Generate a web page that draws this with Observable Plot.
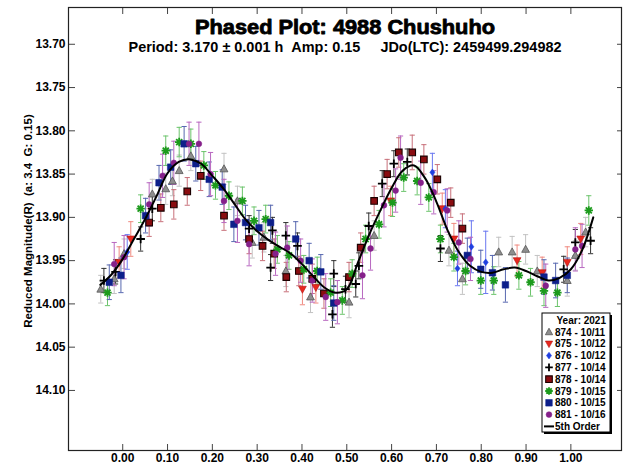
<!DOCTYPE html>
<html><head><meta charset="utf-8">
<script src="https://cdn.jsdelivr.net/npm/d3@7"></script>
<script src="https://cdn.jsdelivr.net/npm/@observablehq/plot@0.6"></script>
<style>
html,body{margin:0;padding:0;background:#fff;}
#chart{width:624px;height:468px;}
</style></head><body><div id="chart"></div>
<script>
const FONT = '"Liberation Sans", Arial, Helvetica, sans-serif';
const titleText = "Phased Plot: 4988 Chushuho";
const subtitleText = "Period: 3.170 \u00b1 0.001 h\u00a0\u00a0Amp: 0.15\u00a0\u00a0\u00a0\u00a0\u00a0JDo(LTC): 2459499.294982";
const yLabelText = "Reduced Magnitude(R)\u00a0\u00a0(a: 3.4\u00a0\u00a0G: 0.15)";
const legendTitle = "Year: 2021";
const fitLabel = "5th Order";
const xTicks = [0.0, 0.1, 0.2, 0.3, 0.4, 0.5, 0.6, 0.7, 0.8, 0.9, 1.0];
const yTicks = [13.70, 13.75, 13.80, 13.85, 13.90, 13.95, 14.00, 14.05, 14.10];
const seriesNames = ["874 - 10/11", "875 - 10/12", "876 - 10/12", "877 - 10/14", "878 - 10/14", "879 - 10/15", "880 - 10/15", "881 - 10/16"];

// [phase, reduced magnitude, error]
const s874 = [[-0.049,13.983,.016],[-0.019,13.971,.017],[0.003,13.942,.017],[0.066,13.873,.017],[0.096,13.867,.018],[0.111,13.858,.017],[0.126,13.846,.018],[0.152,13.829,.017],[0.226,13.844,.018],[0.256,13.881,.017],[0.289,13.929,.018],[0.315,13.923,.017],[0.364,13.962,.018],[0.419,13.992,.018],[0.505,13.998,.018],[0.561,13.921,.017],[0.728,13.938,.018],[0.758,13.971,.018],[0.839,13.940,.017],[0.869,13.940,.018],[0.899,13.937,.017],[0.925,13.962,.018],[0.992,13.973,.018],[1.010,13.944,.017],[1.033,13.917,.017]];
const s875 = [[-0.008,13.952,.018],[0.018,13.925,.020],[0.401,13.983,.018],[0.431,13.981,.018],[0.598,13.881,.017],[0.713,13.890,.018],[0.739,13.925,.018],[0.880,13.950,.018],[0.936,13.964,.018],[0.992,13.952,.018],[1.022,13.925,.018]];
const s876 = [[0.010,13.940,.020],[0.691,13.848,.022],[0.720,13.890,.022],[0.747,13.959,.020],[0.778,13.934,.030],[0.810,13.952,.036]];
const s877 = [[-0.042,13.973,.014],[-0.016,13.963,.014],[0.040,13.925,.014],[0.066,13.890,.014],[0.282,13.913,.015],[0.330,13.958,.015],[0.334,13.915,.015],[0.364,13.921,.015],[0.390,13.933,.015],[0.468,14.012,.015],[0.471,13.965,.015],[0.497,13.983,.015],[0.520,13.977,.015],[0.527,13.956,.015],[0.549,13.910,.015],[0.579,13.861,.015],[0.605,13.838,.015],[0.635,13.836,.015],[0.709,13.936,.015],[0.984,13.960,.015],[1.010,13.929,.015],[1.044,13.927,.015]];
const s878 = [[0.059,13.906,.016],[0.085,13.889,.016],[0.114,13.885,.017],[0.144,13.870,.016],[0.174,13.852,.017],[0.226,13.898,.017],[0.282,13.925,.017],[0.312,13.933,.017],[0.338,13.942,.017],[0.365,13.969,.017],[0.393,13.962,.017],[0.423,13.971,.017],[0.449,13.988,.017],[0.505,13.969,.017],[0.531,13.935,.017],[0.561,13.881,.017],[0.590,13.850,.017],[0.616,13.825,.017],[0.646,13.825,.020],[0.672,13.833,.017],[0.702,13.856,.017],[0.732,13.883,.017],[0.758,13.913,.017]];
const s879 = [[-0.034,13.987,.015],[0.040,13.890,.016],[0.096,13.823,.017],[0.126,13.813,.017],[0.152,13.815,.017],[0.181,13.840,.016],[0.207,13.863,.016],[0.237,13.875,.016],[0.267,13.881,.016],[0.293,13.904,.016],[0.319,13.902,.016],[0.345,13.937,.016],[0.371,13.944,.016],[0.404,13.960,.016],[0.434,13.962,.016],[0.464,13.987,.016],[0.490,13.996,.016],[0.512,13.965,.016],[0.542,13.925,.016],[0.572,13.908,.016],[0.602,13.883,.016],[0.627,13.854,.016],[0.657,13.858,.016],[0.683,13.877,.016],[0.709,13.925,.016],[0.739,13.946,.016],[0.765,13.962,.016],[0.799,13.973,.016],[0.828,13.973,.016],[0.884,13.967,.016],[0.910,13.975,.016],[0.940,13.985,.017],[0.970,13.987,.016],[1.040,13.892,.017]];
const s880 = [[-0.030,13.975,.020],[-0.004,13.967,.020],[0.051,13.898,.020],[0.081,13.860,.020],[0.107,13.842,.020],[0.137,13.815,.020],[0.163,13.838,.020],[0.193,13.856,.020],[0.222,13.865,.020],[0.248,13.908,.020],[0.274,13.906,.020],[0.304,13.912,.020],[0.330,13.906,.020],[0.386,13.925,.020],[0.416,13.950,.020],[0.442,13.963,.020],[0.471,13.999,.020],[0.769,13.944,.020],[0.799,13.960,.022],[0.825,13.964,.020],[0.854,13.978,.020],[0.940,13.969,.020],[0.966,13.973,.020],[0.992,13.967,.020]];
const s881 = [[-0.019,13.954,.025],[0.003,13.946,.025],[0.059,13.885,.025],[0.089,13.852,.025],[0.114,13.837,.025],[0.148,13.815,.025],[0.170,13.815,.025],[0.196,13.850,.025],[0.226,13.881,.025],[0.256,13.904,.025],[0.282,13.931,.025],[0.341,13.942,.025],[0.367,13.935,.025],[0.397,13.950,.025],[0.423,13.973,.025],[0.453,13.992,.027],[0.479,13.998,.025],[0.535,13.967,.027],[0.553,13.936,.025],[0.583,13.886,.025],[0.609,13.869,.025],[0.620,13.831,.025],[0.665,13.860,.025],[0.694,13.871,.025],[0.724,13.892,.025],[0.750,13.929,.025],[0.776,13.948,.025],[0.944,13.979,.025],[1.010,13.937,.025],[1.025,13.933,.025]];

// 5th order Fourier fit
const fitPhase = [-0.05,-0.025,0.0,0.025,0.05,0.075,0.10,0.125,0.15,0.175,0.20,0.225,0.25,0.275,0.30,0.325,0.35,0.375,0.40,0.425,0.45,0.475,0.50,0.525,0.55,0.575,0.60,0.625,0.65,0.675,0.70,0.725,0.75,0.775,0.80,0.825,0.85,0.875,0.90,0.925,0.95,0.975,1.00,1.025,1.05];
const fitMag = [13.978,13.966,13.948,13.925,13.902,13.876,13.849,13.836,13.833,13.838,13.852,13.867,13.885,13.903,13.916,13.926,13.934,13.942,13.954,13.968,13.981,13.987,13.983,13.952,13.920,13.892,13.866,13.846,13.840,13.855,13.882,13.915,13.940,13.956,13.963,13.964,13.960,13.958,13.962,13.968,13.973,13.970,13.960,13.938,13.900];

// symbols
const rOf = size => Math.sqrt(size / Math.PI);
const sym = {
  triUp: {draw(c, s){const r=rOf(s); c.moveTo(0,-r); c.lineTo(r*0.95,r*0.72); c.lineTo(-r*0.95,r*0.72); c.closePath();}},
  triDown: {draw(c, s){const r=rOf(s); c.moveTo(0,r); c.lineTo(r*0.95,-r*0.72); c.lineTo(-r*0.95,-r*0.72); c.closePath();}},
  diamond: {draw(c, s){const r=rOf(s); c.moveTo(0,-r); c.lineTo(r*0.75,0); c.lineTo(0,r); c.lineTo(-r*0.75,0); c.closePath();}},
  square: {draw(c, s){const r=rOf(s); c.moveTo(-r,-r); c.lineTo(r,-r); c.lineTo(r,r); c.lineTo(-r,r); c.closePath();}},
  plus: {draw(c, s){const r=rOf(s); c.moveTo(-r,0); c.lineTo(r,0); c.moveTo(0,-r); c.lineTo(0,r);}},
  aster: {draw(c, s){const r=rOf(s), q=r*0.72; c.moveTo(-r,0); c.lineTo(r,0); c.moveTo(0,-r); c.lineTo(0,r); c.moveTo(-q,-q); c.lineTo(q,q); c.moveTo(-q,q); c.lineTo(q,-q);}},
  circle: {draw(c, s){const r=rOf(s); c.moveTo(r,0); c.arc(0,0,r,0,2*Math.PI);}},
  cap: {draw(c, s){const r=rOf(s); c.moveTo(-r,0); c.lineTo(r,0);}}
};

const styles = [
  {data: s874, symbol: sym.triUp,  r: 4.1, fill: "#8e8e8e", stroke: "#555555", sw: 0.8, eb: "#c2c2c2"},
  {data: s875, symbol: sym.triDown,r: 4.1, fill: "#e8281e", stroke: "#b01010", sw: 0.6, eb: "#f08a80"},
  {data: s876, symbol: sym.diamond,r: 3.4, fill: "#1f3fe0", stroke: "#1f3fe0", sw: 0.5, eb: "#6a78f0"},
  {data: s877, symbol: sym.plus,   r: 4.3, fill: "none",    stroke: "#000000", sw: 1.8, eb: "#333333"},
  {data: s878, symbol: sym.square, r: 3.3, fill: "#8a0c10", stroke: "#1a0000", sw: 1.1, eb: "#c8707a"},
  {data: s879, symbol: sym.aster,  r: 4.2, fill: "none",    stroke: "#1c9a1c", sw: 1.8, eb: "#6cc46c"},
  {data: s880, symbol: sym.square, r: 3.3, fill: "#0d1f8a", stroke: "#0d1f8a", sw: 0.5, eb: "#5868b0"},
  {data: s881, symbol: sym.circle, r: 2.9, fill: "#85208a", stroke: "#85208a", sw: 0.5, eb: "#b868c0"}
];

const W = 624, H = 468, mL = 68, mR = 3, mT = 7, mB = 18;
const plotW = W - mL - mR, plotH = H - mT - mB;
const xDomain = [-0.121, 1.113];
const yDomain = [13.6575, 14.1694];

const marks = [];
for (const st of styles) {
  marks.push(Plot.ruleX(st.data, {x: d => d[0], y1: d => d[1] - d[2], y2: d => d[1] + d[2], stroke: st.eb, strokeWidth: 1}));
  marks.push(Plot.dot(st.data, {x: d => d[0], y: d => d[1] - d[2], symbol: sym.cap, r: 2.6, stroke: st.eb, strokeWidth: 1, fill: "none"}));
  marks.push(Plot.dot(st.data, {x: d => d[0], y: d => d[1] + d[2], symbol: sym.cap, r: 2.6, stroke: st.eb, strokeWidth: 1, fill: "none"}));
}
for (const st of styles) {
  marks.push(Plot.dot(st.data, {x: d => d[0], y: d => d[1], symbol: st.symbol, r: st.r, fill: st.fill, stroke: st.stroke, strokeWidth: st.sw}));
}
const fit = fitPhase.map((p, i) => ({p, m: fitMag[i]}));
marks.push(Plot.line(fit, {x: "p", y: "m", curve: "catmull-rom", stroke: "#000", strokeWidth: 2}));

const plot = Plot.plot({
  width: W, height: H,
  marginLeft: mL, marginRight: mR, marginTop: mT, marginBottom: mB,
  style: {fontFamily: FONT, background: "#fff", color: "#000"},
  x: {domain: xDomain},
  y: {domain: yDomain, reverse: true},
  marks: [
    Plot.axisX(xTicks, {tickSize: 0, tickPadding: 3, tickFormat: d3.format(".2f"), fontSize: 12, fontWeight: "bold", label: null}),
    Plot.axisY(yTicks, {tickSize: 0, tickPadding: 3, tickFormat: d3.format(".2f"), fontSize: 12, fontWeight: "bold", label: null}),
    Plot.tickX(xTicks, {x: d => d, insetTop: plotH - 6, stroke: "#444"}),
    Plot.tickX(xTicks, {x: d => d, insetBottom: plotH - 7, stroke: "#444"}),
    Plot.tickY(yTicks, {y: d => d, insetRight: plotW - 7, stroke: "#444"}),
    Plot.tickY(yTicks, {y: d => d, insetLeft: plotW - 4, stroke: "#444"}),
    ...marks,
    Plot.text([titleText], {frameAnchor: "top", lineAnchor: "middle", dy: 20, fontSize: 20, fontWeight: "bold", fill: "#000", stroke: "#000", strokeWidth: 0.8, className: "ttl"}),
    Plot.text([subtitleText], {frameAnchor: "top", lineAnchor: "middle", dy: 40, fontSize: 14, fontWeight: "bold", fill: "#000", className: "sub"}),
    Plot.frame({stroke: "#222", strokeWidth: 1.2})
  ]
});
document.getElementById("chart").appendChild(plot);

const svg = d3.select(plot);
svg.selectAll("g.ttl text").attr("textLength", 300).attr("lengthAdjust", "spacingAndGlyphs");
svg.selectAll("g.sub text").attr("textLength", 433).attr("lengthAdjust", "spacingAndGlyphs");

// y-axis label
svg.append("text")
  .attr("transform", "translate(32,221) rotate(-90)")
  .attr("text-anchor", "middle")
  .attr("font-family", FONT).attr("font-weight", "bold").attr("font-size", 11.5)
  .attr("fill", "#000")
  .text(yLabelText);

// legend
const lg = svg.append("g").attr("font-family", FONT).attr("font-weight", "bold").attr("font-size", 10).attr("text-anchor", "start").attr("fill", "#000");
const LX = 542, LY = 313, LW = 68, LH = 119;
lg.append("rect").attr("x", LX + 2).attr("y", LY + 2).attr("width", LW).attr("height", LH).attr("fill", "#000");
lg.append("rect").attr("x", LX).attr("y", LY).attr("width", LW).attr("height", LH).attr("fill", "#fff").attr("stroke", "#000").attr("stroke-width", 1);
lg.append("text").attr("x", LX + LW - 4).attr("y", LY + 11).attr("text-anchor", "end").text(legendTitle);
const rowStep = 11.8;
styles.forEach((st, i) => {
  const cy = LY + 19 + rowStep * i;
  const rr = Math.min(st.r, 3.8);
  lg.append("path")
    .attr("transform", `translate(${LX + 7},${cy})`)
    .attr("d", d3.symbol(st.symbol, Math.PI * rr * rr)())
    .attr("fill", st.fill).attr("stroke", st.stroke).attr("stroke-width", st.sw);
  lg.append("text").attr("x", LX + 13).attr("y", cy + 3.6).text(seriesNames[i]);
});
const fy = LY + 19 + rowStep * 8;
lg.append("line").attr("x1", LX + 2).attr("x2", LX + 12).attr("y1", fy).attr("y2", fy).attr("stroke", "#000").attr("stroke-width", 2);
lg.append("text").attr("x", LX + 13).attr("y", fy + 3.6).text(fitLabel);
</script></body></html>
